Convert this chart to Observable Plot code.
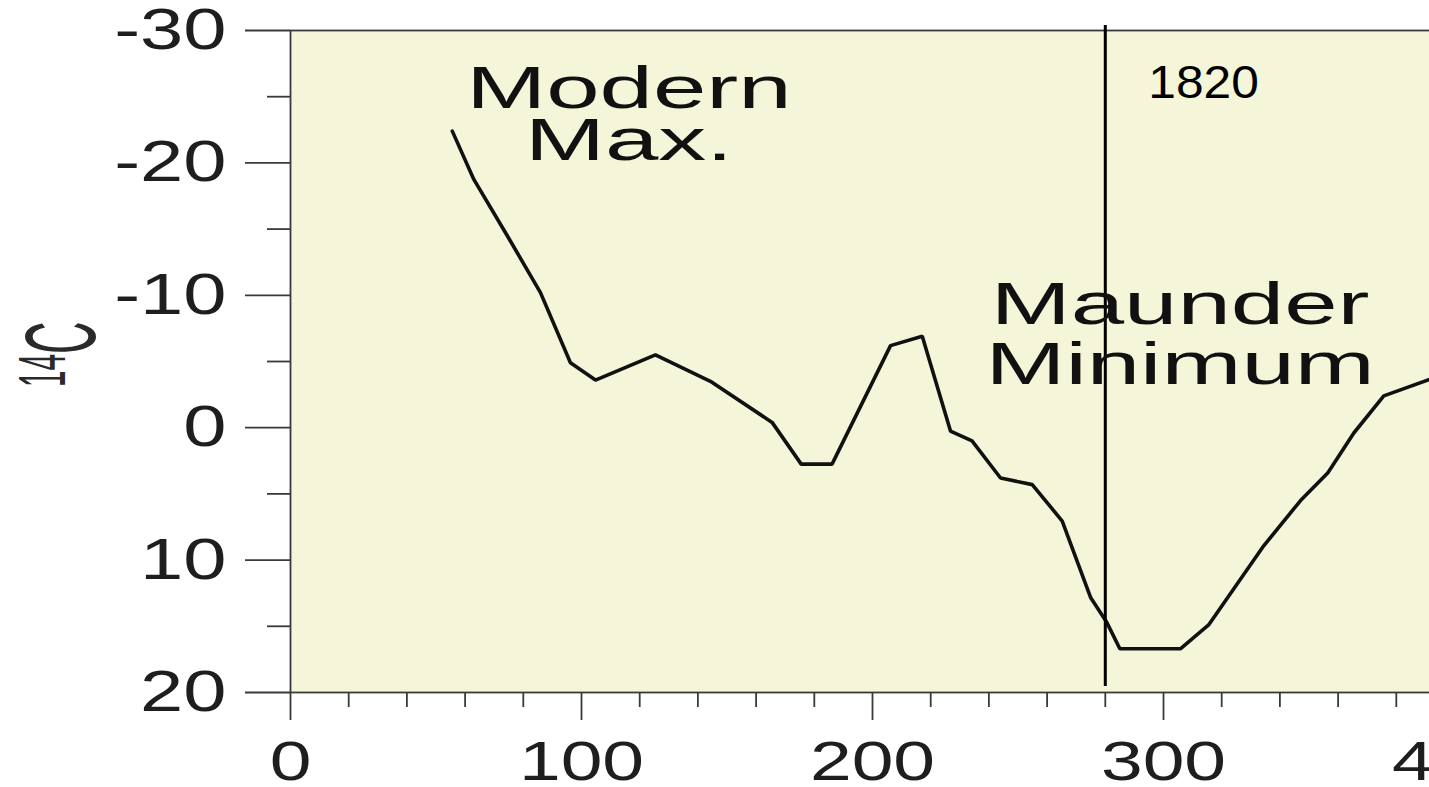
<!DOCTYPE html>
<html>
<head>
<meta charset="utf-8">
<script src="https://cdn.jsdelivr.net/npm/d3@7"></script>
<script src="https://cdn.jsdelivr.net/npm/@observablehq/plot@0.6"></script>
<style>
html, body { margin: 0; padding: 0; background: #fff; overflow: hidden; width: 1429px; height: 787px; }
#chart { width: 1500px; }
</style>
</head>
<body>
<div id="chart"></div>
<script>
// ---- data ----
const xValues = [55.6, 63.0, 74.5, 85.9, 96.2, 104.8, 125.4, 144.3, 165.5, 175.5, 186.1, 206.2, 217.1, 226.8, 234.2, 244.0, 254.9, 265.2, 275.0, 280.5, 285.0, 305.8, 315.5, 334.5, 347.1, 356.5, 365.4, 375.7, 391.5];
const c14Values = [-22.4, -18.75, -14.5, -10.2, -4.9, -3.6, -5.5, -3.5, -0.4, 2.75, 2.75, -6.2, -6.9, 0.25, 1.0, 3.8, 4.3, 7.05, 12.85, 14.7, 16.7, 16.7, 14.9, 8.9, 5.5, 3.4, 0.4, -2.4, -3.65];
const yMajorTicks = [-30, -20, -10, 0, 10, 20];
const yMinorTicks = [-25, -15, -5, 5, 15];
const xMajorTicks = [0, 100, 200, 300, 400];
const xMinorTicks = [20, 40, 60, 80, 120, 140, 160, 180, 220, 240, 260, 280, 320, 340, 360, 380];
const markerX = [280];
const markerLabel = "1820";
const annotationLabels = ["Modern\nMax.", "Maunder\nMinimum"];
const yLabelSup = "14";
const yLabelMain = "C";

const points = xValues.map((x, i) => ({x, y: c14Values[i]}));

const FONT = "'Liberation Sans', Arial, Helvetica, sans-serif";
const tickStroke = "#3a3a3a";
const textColor = "#1e1e1e";

const chart = Plot.plot({
  width: 1500,
  height: 787,
  marginLeft: 290,
  marginRight: 46,
  marginTop: 30,
  marginBottom: 95,
  x: {domain: [0, 400], label: null},
  y: {domain: [-30, 20], reverse: true, label: null},
  style: {fontFamily: FONT, background: "white", maxWidth: "none", overflow: "visible"},
  marks: [
    Plot.frame({fill: "#f5f5d9"}),
    Plot.axisY(yMajorTicks, {tickSize: 45, tickPadding: 19, fontSize: 58, tickFormat: d => String(d), stroke: tickStroke, strokeWidth: 1.8, fill: textColor, label: null}),
    Plot.axisY(yMinorTicks, {tickSize: 23, tickFormat: () => "", stroke: tickStroke, strokeWidth: 1.8, label: null}),
    Plot.axisX(xMajorTicks, {tickSize: 28, tickPadding: 20, fontSize: 56, tickFormat: d => String(d), stroke: tickStroke, strokeWidth: 1.8, fill: textColor, label: null}),
    Plot.axisX(xMinorTicks, {tickSize: 15, tickFormat: () => "", stroke: tickStroke, strokeWidth: 1.8, label: null}),
    Plot.frame({stroke: tickStroke, strokeWidth: 1.8}),
    Plot.line(points, {x: "x", y: "y", stroke: "#111", strokeWidth: 3.6, strokeLinejoin: "miter"}),
    Plot.ruleX(markerX, {stroke: "#000", strokeWidth: 3, insetTop: -5, insetBottom: 6}),
    Plot.text([annotationLabels[0]], {x: 116.3, y: -26.96, text: d => d, textAnchor: "middle", lineAnchor: "top", lineHeight: 0.867, fontSize: 60, fill: "#111"}),
    Plot.text([annotationLabels[1]], {x: 305.7, y: -11.08, text: d => d, textAnchor: "middle", lineAnchor: "top", lineHeight: 1.0, fontSize: 60, fill: "#111"}),
    Plot.text(markerX, {x: d => d + 14.8, y: -24.9, text: () => markerLabel, textAnchor: "start", lineAnchor: "bottom", fontSize: 46, fill: "#000"})
  ]
});

function stretch(selection, sx) {
  selection.each(function() {
    let t = this.getAttribute("transform");
    if (t == null) {
      const x = this.getAttribute("x") || 0, y = this.getAttribute("y") || 0;
      this.removeAttribute("x"); this.removeAttribute("y");
      t = `translate(${x},${y})`;
    }
    this.setAttribute("transform", t + ` scale(${sx},1)`);
  });
}

const svg = d3.select(chart);
stretch(svg.selectAll('g[aria-label="y-axis tick label"] text'), 1.34);
stretch(svg.selectAll('g[aria-label="x-axis tick label"] text'), 1.34);
const textGroups = svg.selectAll('g[aria-label="text"]').nodes();
stretch(d3.select(textGroups[0]).selectAll("text"), 1.6);
stretch(d3.select(textGroups[1]).selectAll("text"), 1.6);
stretch(d3.select(textGroups[2]).selectAll("text"), 1.08);

// y-axis label: superscript 14 + C, rotated and condensed
const ylab = svg.append("text")
  .attr("transform", "translate(95,387) rotate(-90) scale(0.45,1)")
  .attr("text-anchor", "start")
  .style("font-family", FONT)
  .attr("fill", "#2a2a2a");
ylab.append("tspan").style("font-size", "66px").attr("dy", -30).text(yLabelSup);
ylab.append("tspan").style("font-size", "100px").attr("dy", 30).text(yLabelMain);

document.getElementById("chart").appendChild(chart);
</script>
</body>
</html>
